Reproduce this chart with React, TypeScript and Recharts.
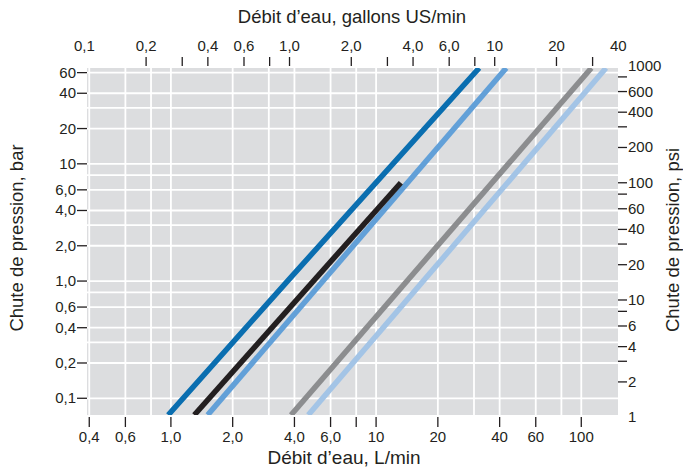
import React from 'react';
import { LineChart, Line, XAxis, YAxis, CartesianGrid } from 'recharts';

// débit en L/min, chute de pression en bar
const serieBleuFonce = [
  { q: 0.97, p: 0.072 },
  { q: 3.7, p: 1.0 },
  { q: 31.8, p: 65.7 },
];
const serieNoire = [
  { q: 1.3, p: 0.072 },
  { q: 13.2, p: 6.9 },
];
const serieBleuMoyen = [
  { q: 1.51, p: 0.072 },
  { q: 43.1, p: 65.7 },
];
const serieGrise = [
  { q: 3.85, p: 0.072 },
  { q: 112, p: 65.7 },
];
const serieBleuClair = [
  { q: 4.67, p: 0.072 },
  { q: 132, p: 65.7 },
];

const LPM_DOMAIN: [number, number] = [0.39, 151];
const BAR_DOMAIN: [number, number] = [0.072, 65.7];
const L_PER_GAL = 3.785;
const PSI_PER_BAR = 14.5038;
const GPM_DOMAIN: [number, number] = [LPM_DOMAIN[0] / L_PER_GAL, LPM_DOMAIN[1] / L_PER_GAL];
const PSI_DOMAIN: [number, number] = [BAR_DOMAIN[0] * PSI_PER_BAR, BAR_DOMAIN[1] * PSI_PER_BAR];

const lpmTicks = [0.4, 0.6, 1, 2, 4, 6, 8, 10, 20, 40, 60, 100];
const lpmLabels = ['0,4', '0,6', '1,0', '2,0', '4,0', '6,0', '', '10', '20', '40', '60', '100'];
const gpmTicks = [0.1, 0.2, 0.3, 0.4, 0.6, 0.8, 1, 2, 3, 4, 6, 8, 10, 20, 30, 40];
const gpmLabels = ['0,1', '0,2', '', '0,4', '0,6', '', '1,0', '2,0', '', '4,0', '6,0', '', '10', '20', '', '40'];
const barTicks = [0.1, 0.2, 0.4, 0.6, 1, 2, 4, 6, 10, 20, 40, 60];
const barLabels = ['0,1', '0,2', '0,4', '0,6', '1,0', '2,0', '4,0', '6,0', '10', '20', '40', '60'];
const psiTicks = [1, 2, 3, 4, 6, 8, 10, 20, 30, 40, 60, 80, 100, 200, 300, 400, 600, 800, 1000];
const psiLabels = ['1', '2', '', '4', '6', '', '10', '20', '', '40', '60', '', '100', '200', '', '400', '600', '', '1000'];

const lpmGrid = [0.4, 0.6, 0.8, 1, 2, 3, 4, 6, 8, 10, 20, 30, 40, 60, 80, 100];
const barGrid = [0.1, 0.2, 0.3, 0.4, 0.6, 0.8, 1, 2, 3, 4, 6, 8, 10, 20, 30, 40, 60];

// même courbe grise exprimée en gallons US/min et psi, invisible : sert juste à porter les axes haut/droite
const serieGriseUS = serieGrise.map(d => ({ g: d.q / L_PER_GAL, s: d.p * PSI_PER_BAR }));

const INK = '#231f20';
const FONT = '"Liberation Sans", Arial, Helvetica, sans-serif';

type Side = 'top' | 'bottom' | 'left' | 'right';

function renderTick(side: Side, values: number[], labels: string[], domain: [number, number]) {
  return (props: any) => {
    const { x, y, payload } = props;
    const v = payload.value;
    const label = labels[values.indexOf(v)] ?? '';
    const inside = v >= domain[0] && v <= domain[1];
    const textProps = { fontSize: 15, fontFamily: FONT, fill: INK };
    if (side === 'bottom') {
      return (
        <g>
          {inside && <line x1={x} x2={x} y1={y + 2} y2={y + 12} stroke={INK} strokeWidth={1.3} />}
          <text x={x} y={y + 27} textAnchor="middle" {...textProps}>{label}</text>
        </g>
      );
    }
    if (side === 'top') {
      return (
        <g>
          {inside && <line x1={x} x2={x} y1={y - 11} y2={y - 2} stroke={INK} strokeWidth={1.3} />}
          <text x={x} y={y - 17} textAnchor="middle" {...textProps}>{label}</text>
        </g>
      );
    }
    if (side === 'left') {
      return (
        <g>
          {inside && <line x1={x - 10} x2={x} y1={y} y2={y} stroke={INK} strokeWidth={1.3} />}
          <text x={x - 11} y={y + 5} textAnchor="end" {...textProps}>{label}</text>
        </g>
      );
    }
    return (
      <g>
        {inside && <line x1={x} x2={x + 9} y1={y} y2={y} stroke={INK} strokeWidth={1.3} />}
        <text x={x + 10} y={y + 5} textAnchor="start" {...textProps}>{label}</text>
      </g>
    );
  };
}

const titleStyle: React.CSSProperties = {
  position: 'absolute',
  fontFamily: FONT,
  fontSize: 18.5,
  lineHeight: 1,
  color: INK,
  whiteSpace: 'nowrap',
};

export default function App() {
  return (
    <div style={{ position: 'relative', width: 683, height: 461 }}>
      <LineChart width={683} height={461} margin={{ top: 0, right: 0, bottom: 0, left: 0 }}>
        <CartesianGrid
          xAxisId="lpm"
          yAxisId="bar"
          fill="#dcdddf"
          fillOpacity={1}
          stroke="#ffffff"
          strokeWidth={1.8}
          verticalValues={lpmGrid}
          horizontalValues={barGrid}
        />
        <XAxis
          xAxisId="lpm"
          orientation="bottom"
          type="number"
          dataKey="q"
          scale="log"
          domain={LPM_DOMAIN}
          allowDataOverflow
          ticks={lpmTicks}
          interval={0}
          height={54}
          tickSize={0}
          tickMargin={0}
          tickLine={false}
          axisLine={false}
          tick={renderTick('bottom', lpmTicks, lpmLabels, LPM_DOMAIN)}
        />
        <XAxis
          xAxisId="gpm"
          orientation="top"
          type="number"
          dataKey="g"
          scale="log"
          domain={GPM_DOMAIN}
          allowDataOverflow
          ticks={gpmTicks}
          interval={0}
          height={60}
          tickSize={0}
          tickMargin={0}
          tickLine={false}
          axisLine={false}
          tick={renderTick('top', gpmTicks, gpmLabels, GPM_DOMAIN)}
        />
        <YAxis
          yAxisId="bar"
          orientation="left"
          type="number"
          scale="log"
          domain={BAR_DOMAIN}
          allowDataOverflow
          ticks={barTicks}
          interval={0}
          width={79}
          tickSize={0}
          tickMargin={0}
          tickLine={false}
          axisLine={false}
          tick={renderTick('left', barTicks, barLabels, BAR_DOMAIN)}
        />
        <YAxis
          yAxisId="psi"
          orientation="right"
          type="number"
          scale="log"
          domain={PSI_DOMAIN}
          allowDataOverflow
          ticks={psiTicks}
          interval={0}
          width={73}
          tickSize={0}
          tickMargin={0}
          tickLine={false}
          axisLine={false}
          tick={renderTick('right', psiTicks, psiLabels, PSI_DOMAIN)}
        />
        <Line xAxisId="gpm" yAxisId="psi" data={serieGriseUS} dataKey="s" stroke="none" strokeWidth={0} dot={false} activeDot={false} isAnimationActive={false} />
        <Line xAxisId="lpm" yAxisId="bar" data={serieGrise} dataKey="p" stroke="#8c8d8f" strokeWidth={5.5} dot={false} isAnimationActive={false} />
        <Line xAxisId="lpm" yAxisId="bar" data={serieBleuClair} dataKey="p" stroke="#a3c4e6" strokeWidth={5.5} dot={false} isAnimationActive={false} />
        <Line xAxisId="lpm" yAxisId="bar" data={serieBleuMoyen} dataKey="p" stroke="#62a0d8" strokeWidth={5.5} dot={false} isAnimationActive={false} />
        <Line xAxisId="lpm" yAxisId="bar" data={serieNoire} dataKey="p" stroke="#231f20" strokeWidth={5.5} dot={false} isAnimationActive={false} />
        <Line xAxisId="lpm" yAxisId="bar" data={serieBleuFonce} dataKey="p" stroke="#0a6eb0" strokeWidth={5.5} dot={false} isAnimationActive={false} />
      </LineChart>
      <div style={{ ...titleStyle, left: 344, top: 8.5, transform: 'translate(-50%, -50%)' }}>
        Débit d’eau, gallons US/min
      </div>
      <div style={{ ...titleStyle, fontSize: 19, left: 336, top: 448.7, transform: 'translate(-50%, -50%)' }}>
        Débit d’eau, L/min
      </div>
      <div style={{ ...titleStyle, left: 8.5, top: 229.5, transform: 'translate(-50%, -50%) rotate(-90deg)' }}>
        Chute de pression, bar
      </div>
      <div style={{ ...titleStyle, left: 665, top: 232, transform: 'translate(-50%, -50%) rotate(-90deg)' }}>
        Chute de pression, psi
      </div>
    </div>
  );
}
